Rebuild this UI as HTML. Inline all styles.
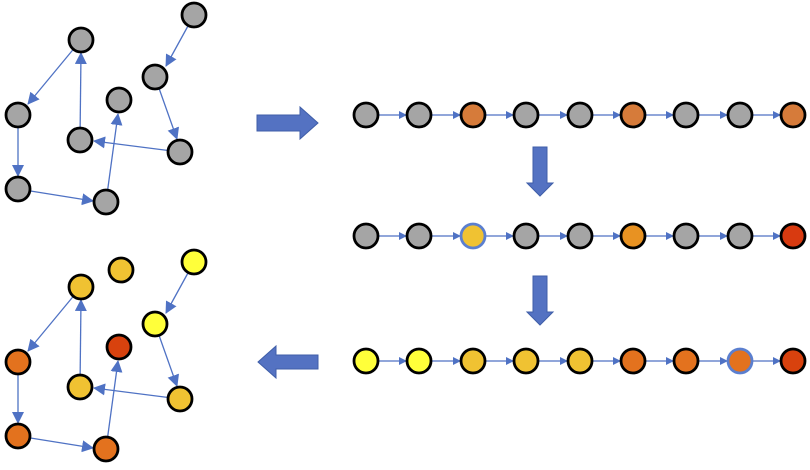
<!DOCTYPE html>
<html><head><style>body{margin:0;background:#fff}</style></head><body>
<svg width="810" height="465" viewBox="0 0 810 465" xmlns="http://www.w3.org/2000/svg">
<defs><marker id="a" markerWidth="8" markerHeight="8" refX="7" refY="4" orient="auto" markerUnits="userSpaceOnUse"><path d="M0,0 L8,4 L0,8 z" fill="#4f72c4"/></marker>
<marker id="b" markerWidth="12" markerHeight="12" refX="11" refY="6" orient="auto" markerUnits="userSpaceOnUse"><path d="M0,0 L12,6 L0,12 z" fill="#4f72c4"/></marker></defs>
<g stroke="#4f72c4" stroke-width="1.3" fill="none" marker-end="url(#b)" id="e">
<line x1="194" y1="15" x2="166" y2="66"/>
<line x1="81" y1="40" x2="28" y2="104"/>
<line x1="80" y1="140" x2="81" y2="53"/>
<line x1="155" y1="77" x2="177" y2="139"/>
<line x1="180" y1="152" x2="94" y2="141"/>
<line x1="18" y1="115" x2="18" y2="176"/>
<line x1="18" y1="189" x2="93" y2="201"/>
<line x1="106" y1="202" x2="118" y2="114"/>
</g>
<use href="#e" transform="translate(0,247)"/>
<g stroke="#000" stroke-width="2.8">
<g fill="#a5a5a5">
<circle cx="194" cy="15" r="12"/><circle cx="81" cy="40" r="12"/><circle cx="155" cy="77" r="12"/><circle cx="119" cy="100" r="12"/><circle cx="18" cy="115" r="12"/><circle cx="80" cy="140" r="12"/><circle cx="180" cy="152" r="12"/><circle cx="18" cy="189" r="12"/><circle cx="106" cy="202" r="12"/>
</g>
<circle cx="194" cy="262" r="12" fill="#ffff3a"/><circle cx="121" cy="270" r="12" fill="#f0c232"/><circle cx="81" cy="287" r="12" fill="#f0c232"/><circle cx="155" cy="324" r="12" fill="#ffff3a"/><circle cx="119" cy="347" r="12" fill="#d8420e"/><circle cx="18" cy="362" r="12" fill="#e3721e"/><circle cx="80" cy="387" r="12" fill="#f0c232"/><circle cx="180" cy="399" r="12" fill="#f0c232"/><circle cx="18" cy="436" r="12" fill="#e3721e"/><circle cx="106" cy="449" r="12" fill="#e3721e"/>
</g>
<g stroke="#4f72c4" stroke-width="1.3" marker-end="url(#a)">
<line x1="378" y1="115" x2="406" y2="115"/><line x1="431" y1="115" x2="460" y2="115"/><line x1="485" y1="115" x2="513" y2="115"/><line x1="538" y1="115" x2="567" y2="115"/><line x1="592" y1="115" x2="620" y2="115"/><line x1="645" y1="115" x2="673" y2="115"/><line x1="698" y1="115" x2="727" y2="115"/><line x1="752" y1="115" x2="780" y2="115"/>
<line x1="378" y1="236" x2="406" y2="236"/><line x1="431" y1="236" x2="460" y2="236"/><line x1="485" y1="236" x2="513" y2="236"/><line x1="538" y1="236" x2="567" y2="236"/><line x1="592" y1="236" x2="620" y2="236"/><line x1="645" y1="236" x2="673" y2="236"/><line x1="698" y1="236" x2="727" y2="236"/><line x1="752" y1="236" x2="780" y2="236"/>
<line x1="378" y1="361" x2="406" y2="361"/><line x1="431" y1="361" x2="460" y2="361"/><line x1="485" y1="361" x2="513" y2="361"/><line x1="538" y1="361" x2="567" y2="361"/><line x1="592" y1="361" x2="620" y2="361"/><line x1="645" y1="361" x2="673" y2="361"/><line x1="698" y1="361" x2="727" y2="361"/><line x1="752" y1="361" x2="780" y2="361"/>
</g>
<g stroke="#000" stroke-width="2.8">
<circle cx="366" cy="115" r="12" fill="#a5a5a5"/><circle cx="419" cy="115" r="12" fill="#a5a5a5"/><circle cx="473" cy="115" r="12" fill="#d67b3a"/><circle cx="526" cy="115" r="12" fill="#a5a5a5"/><circle cx="580" cy="115" r="12" fill="#a5a5a5"/><circle cx="633" cy="115" r="12" fill="#d67b3a"/><circle cx="686" cy="115" r="12" fill="#a5a5a5"/><circle cx="740" cy="115" r="12" fill="#a5a5a5"/><circle cx="793" cy="115" r="12" fill="#d67b3a"/>
<circle cx="366" cy="236" r="12" fill="#a5a5a5"/><circle cx="419" cy="236" r="12" fill="#a5a5a5"/><circle cx="473" cy="236" r="12" fill="#f0c232" stroke="#5b7fcf"/><circle cx="526" cy="236" r="12" fill="#a5a5a5"/><circle cx="580" cy="236" r="12" fill="#a5a5a5"/><circle cx="633" cy="236" r="12" fill="#e89222"/><circle cx="686" cy="236" r="12" fill="#a5a5a5"/><circle cx="740" cy="236" r="12" fill="#a5a5a5"/><circle cx="793" cy="236" r="12" fill="#d83a10"/>
<circle cx="366" cy="361" r="12" fill="#ffff3a"/><circle cx="419" cy="361" r="12" fill="#ffff3a"/><circle cx="473" cy="361" r="12" fill="#f0c232"/><circle cx="526" cy="361" r="12" fill="#f0c232"/><circle cx="580" cy="361" r="12" fill="#f0c232"/><circle cx="633" cy="361" r="12" fill="#e3721e"/><circle cx="686" cy="361" r="12" fill="#e3721e"/><circle cx="740" cy="361" r="12" fill="#e3721e" stroke="#5b7fcf"/><circle cx="793" cy="361" r="12" fill="#d8420e"/>
</g>
<g fill="#5472c2" stroke="#3f5ea8" stroke-width="1">
<path d="M257,115 L300,115 L300,107 L318,123 L300,139 L300,131 L257,131 z"/>
<path d="M318,355 L276,355 L276,346 L258,362 L276,378 L276,369 L318,369 z"/>
<path d="M533,147 L547,147 L547,183 L553,183 L540,196 L527,183 L533,183 z"/>
<path d="M533,276 L547,276 L547,312 L553,312 L540,325 L527,312 L533,312 z"/>
</g>
</svg>
</body></html>
